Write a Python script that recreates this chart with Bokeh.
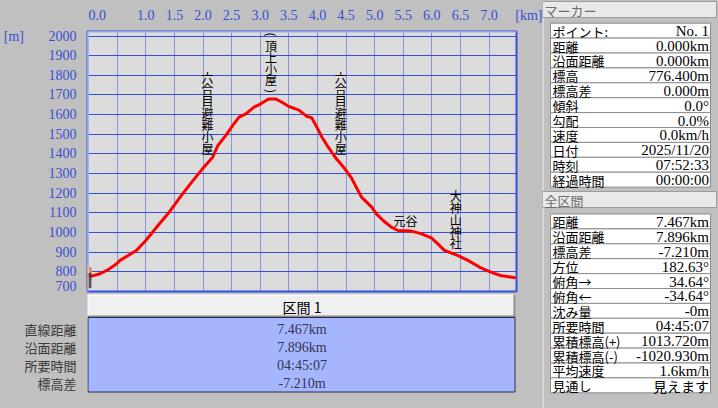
import math
from bokeh.plotting import figure
from bokeh.layouts import row, column
from bokeh.models import Range1d, ColumnDataSource, FixedTicker, Span, GlobalInlineStyleSheet
from bokeh.core.properties import value
from bokeh.embed import file_html
from bokeh.resources import INLINE

# ---------------- data ----------------
dist_km = [0.00, 0.05, 0.20, 0.35, 0.49, 0.55, 0.70, 0.84, 1.00, 1.20, 1.40, 1.60, 1.80,
           1.99, 2.17, 2.26, 2.40, 2.52, 2.63, 2.75, 2.89, 3.01, 3.15, 3.27, 3.38, 3.50,
           3.67, 3.82, 3.90, 3.99, 4.08, 4.19, 4.31, 4.48, 4.60, 4.77, 4.95, 5.03, 5.15,
           5.29, 5.41, 5.64, 5.81, 5.99, 6.10, 6.22, 6.45, 6.63, 6.83, 7.03, 7.20, 7.43, 7.467]
elev_m = [776.4, 778, 790, 812, 841, 858, 884, 909, 959, 1030, 1100, 1180, 1255,
          1324, 1383, 1443, 1494, 1545, 1587, 1604, 1638, 1655, 1680, 1680, 1663, 1641,
          1624, 1590, 1584, 1536, 1485, 1434, 1383, 1324, 1275, 1180, 1129, 1095, 1061,
          1027, 1010, 1007, 994, 973, 943, 909, 883, 858, 824, 798, 781, 771, 769.2]

x_ticks = [0.0, 0.5, 1.0, 1.5, 2.0, 2.5, 3.0, 3.5, 4.0, 4.5, 5.0, 5.5, 6.0, 6.5, 7.0]
x_tick_labels = ["0.0", "", "1.0", "1.5", "2.0", "2.5", "3.0", "3.5", "4.0", "4.5",
                 "5.0", "5.5", "6.0", "6.5", "7.0"]
y_ticks = [700, 800, 900, 1000, 1100, 1200, 1300, 1400, 1500, 1600, 1700, 1800, 1900, 2000]
x_unit = "[km]"
y_unit = "[m]"

wp_names = ["六合目避難小屋", "(頂上小屋)", "六合目避難小屋", "元谷", "大神山神社"]
wp_km = [2.08, 3.19, 4.41, 5.54, 6.42]
wp_elev = [1791, 2008, 1791, 1061, 1189]
wp_vertical = [True, True, True, False, True]

section_header = "区間 1"
section_labels = ["直線距離", "沿面距離", "所要時間", "標高差"]
section_values = ["7.467km", "7.896km", "04:45:07", "-7.210m"]

marker_title = "マーカー"
marker_labels = ["ポイント:", "距離", "沿面距離", "標高", "標高差", "傾斜", "勾配", "速度",
                 "日付", "時刻", "経過時間"]
marker_values = ["No. 1", "0.000km", "0.000km", "776.400m", "0.000m", "0.0°", "0.0%",
                 "0.0km/h", "2025/11/20", "07:52:33", "00:00:00"]

total_title = "全区間"
total_labels = ["距離", "沿面距離", "標高差", "方位", "俯角→", "俯角←", "沈み量", "所要時間",
                "累積標高(+)", "累積標高(-)", "平均速度", "見通し"]
total_values = ["7.467km", "7.896km", "-7.210m", "182.63°", "34.64°", "-34.64°", "-0m",
                "04:45:07", "1013.720m", "-1020.930m", "1.6km/h", "見えます"]

# ---------------- styles ----------------
BG = "#c0c0c0"
PLOT_BG = "#dcdcdc"
BLUE = "#3450e0"
TXT_BLUE = "#3a4fd4"
JP = "Noto Sans CJK JP"
NUM = "Liberation Serif"
NB = "\u00a0"
CHAR_STEP = 11.9
LEFT_W, TOP_H = 542, 293


def is_cjk(s):
    return any(ord(c) > 0x2000 and c not in "°→←" for c in s)


# ---------------- main profile ----------------
p = figure(width=LEFT_W, height=TOP_H, x_range=Range1d(-0.019, 7.48), y_range=Range1d(699.5, 2023),
           x_axis_location="above", toolbar_location=None, output_backend="svg",
           min_border_left=84, min_border_right=26, min_border_top=31, min_border_bottom=2,
           background_fill_color=PLOT_BG, border_fill_color=BG,
           outline_line_color=BLUE, outline_line_width=2)

xl = {}
for tk, lab in zip(x_ticks, x_tick_labels):
    xl[tk] = lab
xl[x_ticks[0]] = NB * 5 + x_tick_labels[0]
xl[x_ticks[-1]] = NB * 13 + x_tick_labels[-1] + NB * 5 + x_unit
p.xaxis.ticker = FixedTicker(ticks=x_ticks)
p.xaxis.major_label_overrides = xl
p.yaxis.ticker = FixedTicker(ticks=y_ticks)
p.yaxis.major_label_overrides = {y_ticks[-1]: y_unit + NB * 7 + str(y_ticks[-1])}
for ax in (p.xaxis[0], p.yaxis[0]):
    ax.axis_line_color = None
    ax.major_tick_line_color = None
    ax.minor_tick_line_color = None
    ax.major_tick_out = 0
    ax.major_tick_in = 0
    ax.minor_tick_out = 0
    ax.minor_tick_in = 0
    ax.major_label_text_font = NUM
    ax.major_label_text_font_size = "14px"
    ax.major_label_text_color = TXT_BLUE
p.xaxis.major_label_standoff = 9
p.yaxis.major_label_standoff = 11

p.xgrid.ticker = FixedTicker(ticks=x_ticks)
p.xgrid.grid_line_color = BLUE
p.xgrid.grid_line_dash = "1 1"
p.xgrid.grid_line_width = 1
p.ygrid.ticker = FixedTicker(ticks=y_ticks)
p.ygrid.grid_line_color = BLUE
p.ygrid.grid_line_width = 1.2

p.add_layout(Span(location=2023, dimension="width", line_color="#f4f4f4", line_width=2))
p.add_layout(Span(location=-0.019, dimension="height", line_color="#f4f4f4", line_width=2))

p.line(dist_km, elev_m, line_color="#ff0000", line_width=3)

# waypoint labels (vertical labels are stacked character by character)
vx, vy, vt, vo, va = [], [], [], [], []
hx, hy, ht = [], [], []
for name, km, el, vert in zip(wp_names, wp_km, wp_elev, wp_vertical):
    if vert:
        step = CHAR_STEP if name[0] != "(" else 11.3
        for i, ch in enumerate(name):
            vx.append(km); vy.append(el); vt.append(ch); vo.append(i * step)
            va.append(-math.pi / 2 if ch in "()" else 0.0)
    else:
        hx.append(km); hy.append(el); ht.append(name)
p.text(x="x", y="y", text="t", y_offset="o", angle="a",
       source=ColumnDataSource(dict(x=vx, y=vy, t=vt, o=vo, a=va)),
       text_font=value(JP), text_font_size="12px", text_color="black",
       text_align="center", text_baseline="middle")
p.text(x=hx, y=hy, text=ht, text_font=value(JP), text_font_size="12px",
       text_color="black", text_align="center", text_baseline="middle")

# hiker icon at the start point
p.text(x=[dist_km[0]] * 4, y=[elev_m[0]] * 4, text=["█", "█", "▌", "●"],
       x_offset=[-1, -1, 2, 0], y_offset=[-1, 7, 7, -7],
       text_color=["#8a1c1c", "#6a5434", "#6a5434", "#e8904a"],
       text_font=value("DejaVu Sans"), text_font_size="9px",
       text_align="center", text_baseline="middle")

# ---------------- section table (below) ----------------
row_y = [328.5 + 18 * i for i in range(len(section_labels))]
t = figure(width=LEFT_W, height=408 - TOP_H, x_range=Range1d(84, 516), y_range=Range1d(408, TOP_H),
           x_axis_type=None, toolbar_location=None, output_backend="svg",
           min_border_left=84, min_border_right=26, min_border_top=0, min_border_bottom=0,
           background_fill_color=BG, border_fill_color=BG, outline_line_color=None)
t.ygrid.visible = False
t.yaxis.ticker = FixedTicker(ticks=row_y)
t.yaxis.major_label_overrides = {yy: lab for yy, lab in zip(row_y, section_labels)}
t.yaxis.axis_line_color = None
t.yaxis.major_tick_line_color = None
t.yaxis.minor_tick_line_color = None
t.yaxis.major_tick_out = 0
t.yaxis.major_tick_in = 0
t.yaxis.minor_tick_out = 0
t.yaxis.minor_tick_in = 0
t.yaxis.major_label_standoff = 11
t.yaxis.major_label_text_font = JP
t.yaxis.major_label_text_font_size = "13px"
t.yaxis.major_label_text_color = "#3a3a3a"

t.quad(left=[84], right=[515], top=[294], bottom=[317], fill_color="#f0f0f0", line_color=None)
t.segment(x0=[84, 84.5], y0=[294.5, 294], x1=[515, 84.5], y1=[294.5, 317],
          line_color="white", line_width=1)
t.segment(x0=[84, 514], y0=[316, 294], x1=[515, 514], y1=[316, 317],
          line_color="#8a8a8a", line_width=2)
t.quad(left=[84.5], right=[514.5], top=[317], bottom=[391.5], fill_color="#a6b6fe",
       line_color="#2c2c4a", line_width=1)
t.text(x=[300], y=[306], text=[section_header], text_font=value(JP), text_font_size="14px",
       text_color="black", text_align="center", text_baseline="middle")
t.text(x=[300] * len(section_values), y=row_y, text=section_values, text_font=value(NUM),
       text_font_size="14px", text_color="#34344e", text_align="center", text_baseline="middle")

# ---------------- right panel ----------------
r = figure(width=718 - LEFT_W, height=408, x_range=Range1d(LEFT_W, 718), y_range=Range1d(408, 0),
           x_axis_type=None, y_axis_type=None, toolbar_location=None, output_backend="svg",
           min_border=0, background_fill_color=BG, border_fill_color=BG, outline_line_color=None)


def panel_block(title, labels, values, y_head, y_top, step):
    r.quad(left=[542], right=[716], top=[y_head], bottom=[y_head + 16],
           fill_color="#e9e9e9", line_color="#9c9c9c", line_width=1)
    r.text(x=[544], y=[y_head + 8.5], text=[title], text_font=value(JP), text_font_size="13px",
           text_color="#6c6c6c", text_align="left", text_baseline="middle")
    n = len(labels)
    tops = [y_top + i * step for i in range(n)]
    r.quad(left=[550] * n, right=[710] * n, top=tops, bottom=[v + step for v in tops],
           fill_color="white", line_color="#8c8c8c", line_width=1)
    mids = [v + step / 2 + 0.5 for v in tops]
    r.text(x=[552] * n, y=mids, text=labels, text_font=value(JP), text_font_size="13px",
           text_color="black", text_align="left", text_baseline="middle")
    fonts = [JP if is_cjk(v) else NUM for v in values]
    sizes = ["14px" if is_cjk(v) else "15px" for v in values]
    r.text(x="x", y="y", text="t", text_font="f", text_font_size="s",
           source=ColumnDataSource(dict(x=[708.5] * n, y=mids, t=values, f=fonts, s=sizes)),
           text_color="black", text_align="right", text_baseline="middle")


r.segment(x0=[542.5, 542.5], y0=[17, 207], x1=[542.5, 542.5], y1=[190, 408],
          line_color="#e6e6e6", line_width=1.5)
panel_block(marker_title, marker_labels, marker_values, 1, 22.7, 14.9)
panel_block(total_title, total_labels, total_values, 191, 213.5, 14.9)

layout = row(column(p, t), r)
layout.stylesheets = [GlobalInlineStyleSheet(css="body{background-color:#c0c0c0;}")]

open("out.html", "w").write(file_html(layout, INLINE))
